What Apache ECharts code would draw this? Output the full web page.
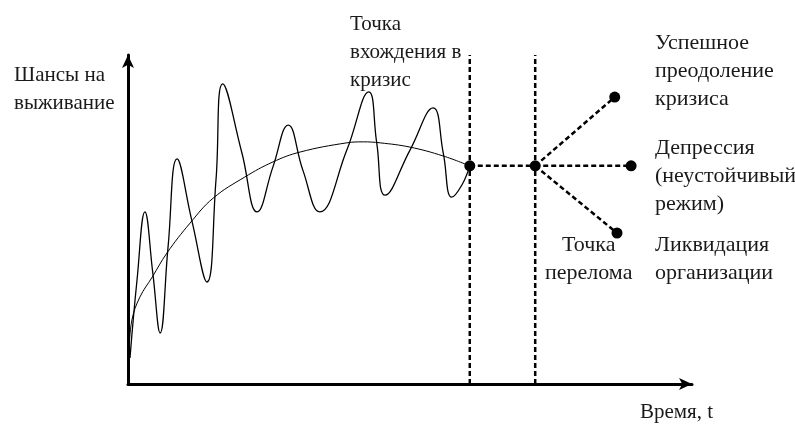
<!DOCTYPE html>
<html>
<head>
<meta charset="utf-8">
<script src="https://cdn.jsdelivr.net/npm/echarts@6/dist/echarts.min.js"></script>
<style>
  html, body { margin: 0; padding: 0; background: #fff; }
  #chart { width: 795px; height: 424px; }
</style>
</head>
<body>
<div id="chart"></div>
<script>
// колебания шансов на выживание во времени
const waveTime = [0.35, 1.6, 3.0, 4.4, 5.7, 7.1, 8.7, 11.3, 14.0, 15.6, 16.8, 20.2, 22.9, 25.7, 28.4, 31.0,
  34.0, 38.8, 42.7, 44.1, 45.6, 50.0, 54.1, 55.9, 57.4, 59.2, 60.6];
const waveChance = [7.9, 31.6, 52.3, 33.7, 15.5, 41.6, 68.4, 49.8, 31.0, 62.0, 91.2, 70.2, 52.3, 66.0, 78.7, 65.0,
  52.3, 71.1, 88.8, 73.3, 57.4, 71.1, 83.9, 70.2, 56.8, 60.5, 66.3];

// сглаженный тренд
const trendTime = [0.18, 0.7, 2.1, 4.3, 6.9, 11.0, 15.1, 20.7, 25.7, 30.5, 38.8, 41.7, 44.7, 50.0, 55.9, 60.6];
const trendChance = [10.3, 19.5, 26.4, 32.5, 39.8, 48.9, 56.5, 62.9, 67.5, 70.5, 73.3, 73.6, 73.3, 72.0, 69.3, 66.3];

const crisisTime = 60.6;   // точка вхождения в кризис
const breakTime = 72.2;    // точка перелома
const crisisChance = 66.3;

const outcomeTime = [86.3, 89.2, 86.7];
const outcomeChance = [87.2, 66.3, 45.9];

const zip = (a, b) => a.map((v, i) => [v, b[i]]);

const chart = echarts.init(document.getElementById('chart'));

const dash = { color: '#000', width: 2.5, type: [5, 3] };
const font = '"Liberation Serif", "Times New Roman", serif';
const textColor = '#1a1a1a';

const label = (txt, left, top, size, align) => ({
  type: 'text',
  left: left,
  top: top,
  style: {
    text: txt,
    fontFamily: font,
    fontSize: size,
    lineHeight: 28,
    fill: textColor,
    textAlign: align || 'left'
  }
});

const axisStyle = () => ({
  type: 'value',
  min: 0,
  max: 100,
  axisLine: {
    show: true,
    lineStyle: { color: '#000', width: 3 },
    symbol: ['none', 'arrow'],
    symbolSize: [9, 13],
    symbolOffset: [0, 0]
  },
  axisTick: { show: false },
  axisLabel: { show: false },
  splitLine: { show: false }
});

const option = {
  animation: false,
  grid: { left: 128, right: 103, top: 55, bottom: 40 },
  xAxis: axisStyle(),
  yAxis: axisStyle(),
  series: [
    {
      type: 'line',
      data: zip(waveTime, waveChance),
      smooth: 0.45,
      showSymbol: false,
      lineStyle: { color: '#000', width: 1.3 }
    },
    {
      type: 'line',
      data: zip(trendTime, trendChance),
      smooth: 0.4,
      showSymbol: false,
      lineStyle: { color: '#000', width: 1 }
    },
    {
      type: 'line',
      data: [[crisisTime, 0], [crisisTime, 100]],
      showSymbol: false,
      lineStyle: dash
    },
    {
      type: 'line',
      data: [[breakTime, 0], [breakTime, 100]],
      showSymbol: false,
      lineStyle: dash
    },
    {
      type: 'line',
      data: [[crisisTime, crisisChance], [breakTime, crisisChance]],
      showSymbol: false,
      lineStyle: dash
    },
    ...outcomeTime.map((t, i) => ({
      type: 'line',
      data: [[breakTime, crisisChance], [t, outcomeChance[i]]],
      showSymbol: false,
      lineStyle: dash
    })),
    {
      type: 'scatter',
      data: [[crisisTime, crisisChance], [breakTime, crisisChance]].concat(zip(outcomeTime, outcomeChance)),
      symbolSize: 11,
      itemStyle: { color: '#000', opacity: 1 },
      z: 5
    }
  ],
  graphic: [
    label('Шансы на\nвыживание', 14, 61, 21),
    label('Точка\nвхождения в\nкризис', 350, 10, 21),
    label('Успешное\nпреодоление\nкризиса', 655, 29, 22),
    label('Депрессия\n(неустойчивый\nрежим)', 655, 134, 22),
    label('Ликвидация\nорганизации', 655, 231, 22),
    label('Точка\nперелома', 545, 231, 22, 'center'),
    label('Время, t', 640, 398, 21)
  ]
};

chart.setOption(option);
</script>
</body>
</html>
